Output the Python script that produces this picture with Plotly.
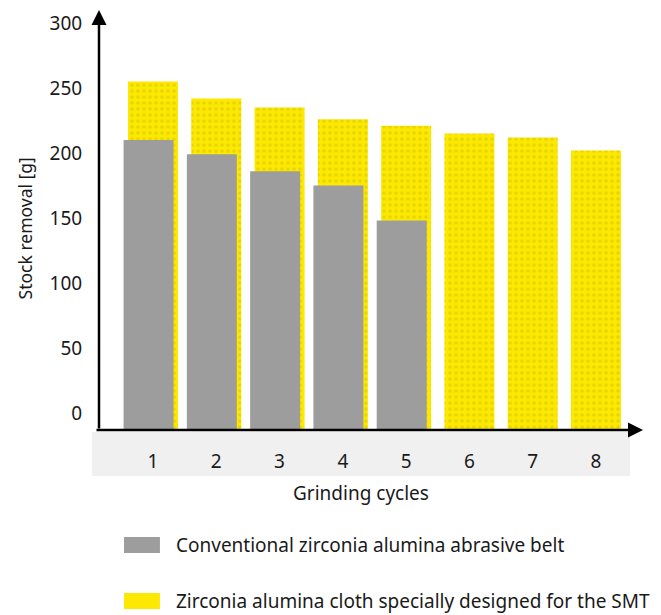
import plotly.graph_objects as go

# grinding cycles and stock removal
cycles = [1, 2, 3, 4, 5, 6, 7, 8]
smt_cloth = [255, 242, 235, 226, 221, 215, 212, 202]
conventional_cycles = [1, 2, 3, 4, 5]
conventional_belt = [210, 199, 186, 175, 148]
y_ticks = [0, 50, 100, 150, 200, 250, 300]

YELLOW = '#FCE800'
GRAY = '#9D9D9D'
INK = '#1A1A1A'
FONT = 'Noto Sans'

# bars start a little below the "0" label, at the drawn axis line
FLOOR = -13.08
BAR_W = 0.79
SHIFT = 0.07

fig = go.Figure()
fig.add_trace(go.Bar(
    x=cycles, y=[v - FLOOR for v in smt_cloth], base=FLOOR,
    width=BAR_W, offset=-BAR_W / 2,
    marker=dict(color=YELLOW, line_width=0,
                pattern=dict(shape='.', fgcolor='#D6C300', size=6, solidity=0.3)),
    name='Zirconia alumina cloth specially designed for the SMT',
))
fig.add_trace(go.Bar(
    x=conventional_cycles, y=[v - FLOOR for v in conventional_belt], base=FLOOR,
    width=BAR_W, offset=-BAR_W / 2 - SHIFT,
    marker=dict(color=GRAY, line_width=0),
    name='Conventional zirconia alumina abrasive belt',
))

shapes = [
    # grey band behind the cycle numbers
    dict(type='rect', xref='paper', yref='paper', x0=-0.013, x1=0.976, y0=-0.005, y1=-0.1095,
         fillcolor='#F0F0F0', line_width=0, layer='below'),
    # legend swatches
    dict(type='rect', xref='paper', yref='paper', x0=0.046, x1=0.112, y0=-0.2548, y1=-0.2929,
         fillcolor=GRAY, line_width=0),
    dict(type='rect', xref='paper', yref='paper', x0=0.046, x1=0.112, y0=-0.388, y1=-0.426,
         fillcolor=YELLOW, line_width=0),
]


def label(x, y, text, xanchor='center', size=19, **kw):
    return dict(xref='paper', yref='paper', x=x, y=y, text=text, showarrow=False,
                xanchor=xanchor, yanchor='middle',
                font=dict(size=size, color=INK, family=FONT), **kw)


annotations = [
    # axis arrows
    dict(xref='paper', yref='paper', x=0, y=1, ax=0, ay=420, showarrow=True,
         arrowhead=2, arrowsize=1.2, arrowwidth=2.5, arrowcolor='black', text=''),
    dict(xref='paper', yref='paper', x=1, y=0, ax=-548, ay=0, showarrow=True,
         arrowhead=2, arrowsize=1.2, arrowwidth=2.5, arrowcolor='black', text=''),
    label(-0.136, 0.48, 'Stock removal [g]', size=17.5, textangle=-90),
    label(0.4816, -0.15, 'Grinding cycles'),
    label(0.1379, -0.2738, 'Conventional zirconia alumina abrasive belt', xanchor='left'),
    label(0.1379, -0.407, 'Zirconia alumina cloth specially designed for the SMT', xanchor='left'),
]

# the page body adds an 8px offset, so the margins are trimmed by that much
fig.update_layout(
    width=661, height=615,
    margin=dict(l=91, r=26, t=2, b=193),
    paper_bgcolor='white', plot_bgcolor='white',
    barmode='overlay', showlegend=False,
    font=dict(family=FONT, color=INK, size=19),
    shapes=shapes, annotations=annotations,
    xaxis=dict(range=[0.1468, 8.743], tickvals=cycles, ticks='outside', ticklen=14,
               tickcolor='rgba(0,0,0,0)', showgrid=False, zeroline=False, showline=False,
               tickfont=dict(size=19), fixedrange=True),
    yaxis=dict(range=[FLOOR, 310], tickvals=y_ticks, ticks='outside', ticklen=12,
               tickcolor='rgba(0,0,0,0)', showgrid=False, zeroline=False, showline=False,
               tickfont=dict(size=19), fixedrange=True),
)

fig.write_html("out.html")
